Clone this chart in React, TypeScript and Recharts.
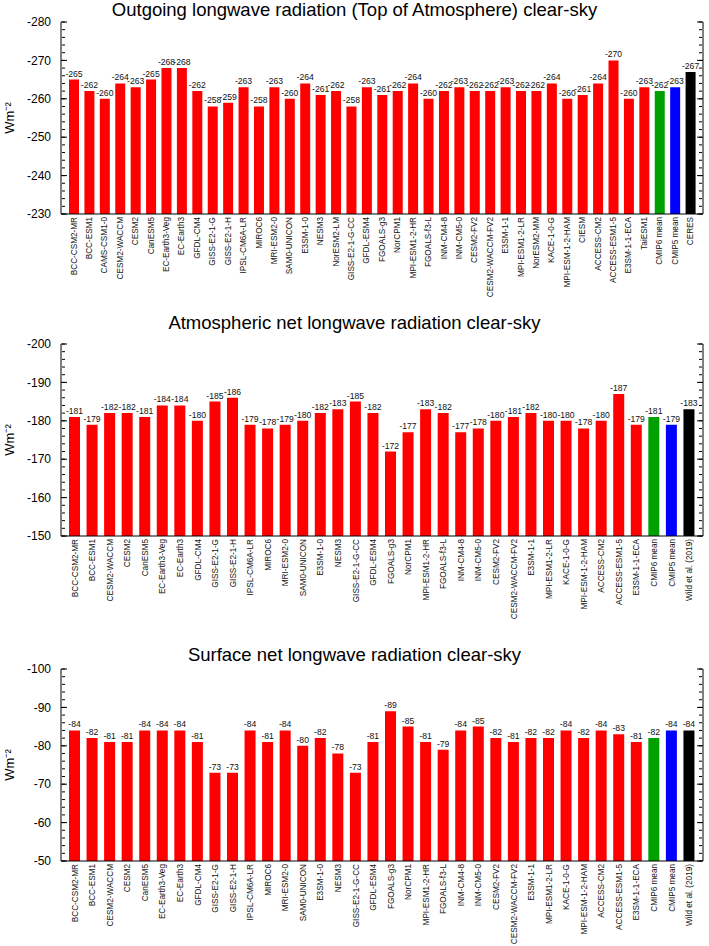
import React from 'react';
import { BarChart, Bar, XAxis, YAxis, Cell, LabelList } from 'recharts';

// Outgoing longwave radiation, TOA clear-sky
const toaModels = [
  'BCC-CSM2-MR', 'BCC-ESM1', 'CAMS-CSM1-0', 'CESM2-WACCM', 'CESM2', 'CanESM5',
  'EC-Earth3-Veg', 'EC-Earth3', 'GFDL-CM4', 'GISS-E2-1-G', 'GISS-E2-1-H', 'IPSL-CM6A-LR',
  'MIROC6', 'MRI-ESM2-0', 'SAM0-UNICON', 'E3SM-1-0', 'NESM3', 'NorESM2-LM',
  'GISS-E2-1-G-CC', 'GFDL-ESM4', 'FGOALS-g3', 'NorCPM1', 'MPI-ESM1-2-HR', 'FGOALS-f3-L',
  'INM-CM4-8', 'INM-CM5-0', 'CESM2-FV2', 'CESM2-WACCM-FV2', 'E3SM-1-1', 'MPI-ESM1-2-LR',
  'NorESM2-MM', 'KACE-1-0-G', 'MPI-ESM-1-2-HAM', 'CIESM', 'ACCESS-CM2', 'ACCESS-ESM1-5',
  'E3SM-1-1-ECA', 'TaiESM1', 'CMIP6 mean', 'CMIP5 mean', 'CERES',
];
const toaValues = [
  -265, -262, -260, -264, -263, -265, -268, -268, -262, -258, -259, -263,
  -258, -263, -260, -264, -261, -262, -258, -263, -261, -262, -264, -260,
  -262, -263, -262, -262, -263, -262, -262, -264, -260, -261, -264, -270,
  -260, -263, -262, -263, -267,
];

// atmosphere and surface panels share the same model list
const netModels = [
  'BCC-CSM2-MR', 'BCC-ESM1', 'CESM2-WACCM', 'CESM2', 'CanESM5', 'EC-Earth3-Veg',
  'EC-Earth3', 'GFDL-CM4', 'GISS-E2-1-G', 'GISS-E2-1-H', 'IPSL-CM6A-LR', 'MIROC6',
  'MRI-ESM2-0', 'SAM0-UNICON', 'E3SM-1-0', 'NESM3', 'GISS-E2-1-G-CC', 'GFDL-ESM4',
  'FGOALS-g3', 'NorCPM1', 'MPI-ESM1-2-HR', 'FGOALS-f3-L', 'INM-CM4-8', 'INM-CM5-0',
  'CESM2-FV2', 'CESM2-WACCM-FV2', 'E3SM-1-1', 'MPI-ESM1-2-LR', 'KACE-1-0-G', 'MPI-ESM-1-2-HAM',
  'ACCESS-CM2', 'ACCESS-ESM1-5', 'E3SM-1-1-ECA', 'CMIP6 mean', 'CMIP5 mean', 'Wild et al. (2019)',
];
const atmValues = [
  -181, -179, -182, -182, -181, -184, -184, -180, -185, -186, -179, -178,
  -179, -180, -182, -183, -185, -182, -172, -177, -183, -182, -177, -178,
  -180, -181, -182, -180, -180, -178, -180, -187, -179, -181, -179, -183,
];
const sfcValues = [
  -84, -82, -81, -81, -84, -84, -84, -81, -73, -73, -84, -81,
  -84, -80, -82, -78, -73, -81, -89, -85, -81, -79, -84, -85,
  -82, -81, -82, -82, -84, -82, -84, -83, -81, -82, -84, -84,
];

const toaMajor = [-280, -270, -260, -250, -240, -230];
const atmMajor = [-200, -190, -180, -170, -160, -150];
const sfcMajor = [-100, -90, -80, -70, -60, -50];

const FONT = '"Liberation Sans", Arial, Helvetica, sans-serif';
const W = 709;
const PLOT_H = 192;
const X_H = 90;

const colorFor = (name: string) => {
  if (name === 'CMIP6 mean') return '#00a000';
  if (name === 'CMIP5 mean') return '#0000ff';
  if (name === 'CERES' || name.startsWith('Wild')) return '#000000';
  return '#ff0000';
};

const minorTicks = (major: number[]) => {
  const out: number[] = [];
  for (let v = major[0]; v <= major[major.length - 1]; v += 2) out.push(v);
  return out;
};

const RotTick = (props: any) => {
  const { x, y, payload } = props;
  return (
    <text
      x={x}
      y={y}
      transform={`rotate(-90, ${x}, ${y})`}
      textAnchor="end"
      dy="0.35em"
      fontSize={8.2}
      fontFamily={FONT}
      fill="#111"
    >
      {payload.value}
    </text>
  );
};

const NoTick = () => <g />;

interface PanelProps {
  title: string;
  models: string[];
  values: number[];
  major: number[];
  top: number;
  titleY: number;
  barSize: number;
}

const Panel: React.FC<PanelProps> = ({ title, models, values, major, top, titleY, barSize }) => {
  const data = models.map((name, i) => ({ name, value: values[i] }));
  const domain: [number, number] = [major[0], major[major.length - 1]];
  const minor = minorTicks(major);
  const marginTop = 22;

  // inward-pointing tick marks, drawn by thin mirrored axes
  const tickAxis = (id: string, side: 'left' | 'right', ticks: number[], size: number, line: boolean) => (
    <YAxis
      key={id}
      yAxisId={id}
      orientation={side}
      mirror
      width={1}
      type="number"
      domain={domain}
      allowDataOverflow
      reversed
      ticks={ticks}
      interval={0}
      tick={NoTick}
      tickSize={size}
      tickLine={{ stroke: '#000' }}
      axisLine={line ? { stroke: '#000' } : false}
    />
  );

  return (
    <>
      <div
        style={{
          position: 'absolute',
          top: top + titleY - 11,
          left: 0,
          width: W,
          textAlign: 'center',
          fontFamily: FONT,
          fontSize: 18.5,
          lineHeight: '22px',
          color: '#000',
        }}
      >
        {title}
      </div>
      <div
        style={{
          position: 'absolute',
          top: top + marginTop + PLOT_H / 2 - 10,
          left: 10 - 20,
          width: 40,
          height: 20,
          lineHeight: '20px',
          textAlign: 'center',
          transform: 'rotate(-90deg)',
          fontFamily: FONT,
          fontSize: 13,
          color: '#000',
        }}
      >
        Wm⁻²
      </div>
      <div style={{ position: 'absolute', top, left: 0 }}>
        <BarChart
          width={W}
          height={marginTop + PLOT_H + X_H}
          data={data}
          margin={{ top: marginTop, right: 6, bottom: 0, left: 0 }}
          barSize={barSize}
        >
          <XAxis
            dataKey="name"
            type="category"
            interval={0}
            height={X_H}
            tickLine={false}
            tickSize={0}
            tickMargin={3}
            tick={<RotTick />}
            axisLine={{ stroke: '#000' }}
            padding={{ left: 5, right: 5 }}
          />
          <XAxis
            xAxisId="top"
            dataKey="name"
            orientation="top"
            height={0}
            tick={false}
            tickLine={false}
            axisLine={{ stroke: '#000' }}
          />
          <YAxis
            yAxisId="left"
            orientation="left"
            width={61}
            type="number"
            domain={domain}
            allowDataOverflow
            reversed
            ticks={major}
            tickLine={false}
            tickSize={0}
            tickMargin={10}
            axisLine={{ stroke: '#000' }}
            tick={{ fontSize: 12, fill: '#000', fontFamily: FONT }}
          />
          {tickAxis('lmaj', 'left', major, 6, false)}
          {tickAxis('lmin', 'left', minor, 3, false)}
          {tickAxis('rmaj', 'right', major, 6, true)}
          {tickAxis('rmin', 'right', minor, 3, false)}
          <Bar dataKey="value" yAxisId="left" isAnimationActive={false}>
            {data.map((d) => (
              <Cell key={d.name} fill={colorFor(d.name)} />
            ))}
            <LabelList
              dataKey="value"
              position="top"
              offset={3}
              fontSize={8.6}
              fill="#111"
              fontFamily={FONT}
            />
          </Bar>
        </BarChart>
      </div>
    </>
  );
};

export default function App() {
  return (
    <div
      style={{
        position: 'absolute',
        top: 0,
        left: 0,
        width: W,
        height: 946,
        background: '#fff',
        overflow: 'hidden',
      }}
    >
      <Panel
        title="Outgoing longwave radiation (Top of Atmosphere) clear-sky"
        models={toaModels}
        values={toaValues}
        major={toaMajor}
        top={0}
        titleY={10}
        barSize={10}
      />
      <Panel
        title="Atmospheric net longwave radiation clear-sky"
        models={netModels}
        values={atmValues}
        major={atmMajor}
        top={322}
        titleY={1}
        barSize={11}
      />
      <Panel
        title="Surface net longwave radiation clear-sky"
        models={netModels}
        values={sfcValues}
        major={sfcMajor}
        top={647}
        titleY={8}
        barSize={11}
      />
    </div>
  );
}
